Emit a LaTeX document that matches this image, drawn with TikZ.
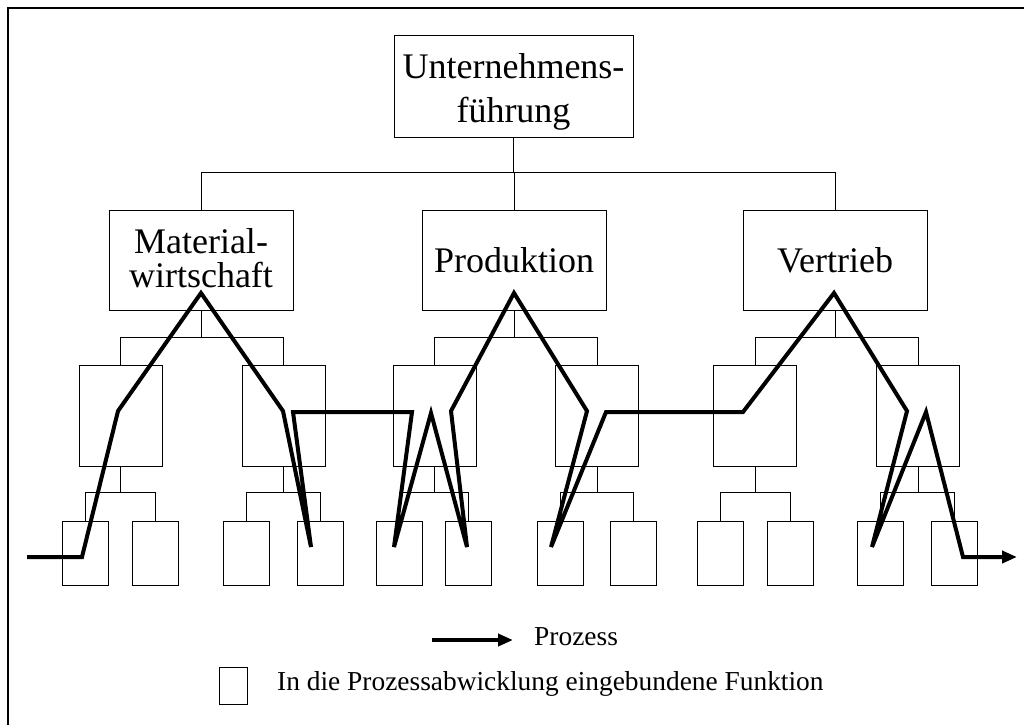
\documentclass[tikz,border=0pt]{standalone}
\usepackage{fontspec}
\setmainfont{Liberation Serif}
\usetikzlibrary{arrows.meta}
\begin{document}
\begin{tikzpicture}[x=1pt,y=-1pt,
  box/.style={draw, line width=0.8pt, inner sep=0pt, align=center},
  topbox/.style={box, minimum width=239pt, minimum height=102pt, font=\fontsize{36}{44}\selectfont},
  dept/.style={box, minimum width=184pt, minimum height=100pt, font=\fontsize{36}{34}\selectfont},
  func/.style={box, minimum width=83pt, minimum height=101pt},
  task/.style={box, minimum width=46pt, minimum height=64pt},
  link/.style={line width=0.8pt},
  flow/.style={line width=4pt, -{Triangle[length=15pt,width=12pt]}},
  keytext/.style={anchor=base west, inner sep=0pt, font=\fontsize{27.4}{32}\selectfont}]
\useasboundingbox (0,0) rectangle (1024,724);
\fill[white] (0,0) rectangle (1024,724);

% frame
\draw[line width=1.5pt] (1030,8) -- (8,8) -- (8,730);

% management and departments
\node[topbox, text height=80pt, text depth=8pt] (ceo) at (513.5,86) {Unternehmens-\\führung};
\node[dept, text depth=4pt] (mat) at (201,260) {Material-\\wirtschaft};
\node[dept]   (prod)  at (514,260)  {Produktion};
\node[dept]   (sales) at (835,260)  {Vertrieb};

% functions
\foreach \n/\x in {m1/120.5, m2/283.5, p1/434.5, p2/597, v1/755, v2/918}
  \node[func] (\n) at (\x,415.5) {};

% tasks
\foreach \n/\x in {m1a/85, m1b/155, m2a/246, m2b/320, p1a/399, p1b/468,
                   p2a/560, p2b/633, v1a/720, v1b/790, v2a/880, v2b/954}
  \node[task] (\n) at (\x,553) {};

% tree connectors
\draw[link] (ceo.south) -- ++(0,36);
\draw[link] (mat.north) -- ++(0,-37) -| (sales.north);
\draw[link] (prod.north) -- ++(0,-37);
\foreach \p/\a/\b in {mat/m1/m2, prod/p1/p2, sales/v1/v2}{
  \draw[link] (\p.south) -- ++(0,28);
  \draw[link] (\a.north) -- ++(0,-27) -| (\b.north);
}
\foreach \p in {m1, m2, p1, p2, v1, v2}{
  \draw[link] (\p.south) -- ++(0,27);
  \draw[link] (\p a.north) -- ++(0,-28) -| (\p b.north);
}

% process path
\foreach \n/\x/\y in {0/27/557, 1/82/557, 2/118/411, 3/201/293, 4/283/411,
    5/311/547, 6/293/412, 7/412/412, 8/394/547, 9/431/413, 10/467/547,
    11/451/411, 12/514/293, 13/587/411, 14/551/547, 15/606/412, 16/743/412,
    17/834/293, 18/907/411, 19/872/547, 20/926/412, 21/963/557, 22/1017/557}
  \coordinate (s\n) at (\x,\y);
\draw[flow] (s0) -- (s1) -- (s2) -- (s3) -- (s4) -- (s5) -- (s6) -- (s7)
  -- (s8) -- (s9) -- (s10) -- (s11) -- (s12) -- (s13) -- (s14) -- (s15)
  -- (s16) -- (s17) -- (s18) -- (s19) -- (s20) -- (s21) -- (s22);

% legend
\coordinate (ka) at (432,640);
\coordinate (kb) at (513,640);
\draw[flow] (ka) -- (kb);
\node[keytext] (kproc) at (534,645) {Prozess};
\node[box, minimum width=28pt, minimum height=37pt] (kbox) at (233,685.5) {};
\node[keytext] (kfunc) at (277,690) {In die Prozessabwicklung eingebundene Funktion};
\end{tikzpicture}
\end{document}
